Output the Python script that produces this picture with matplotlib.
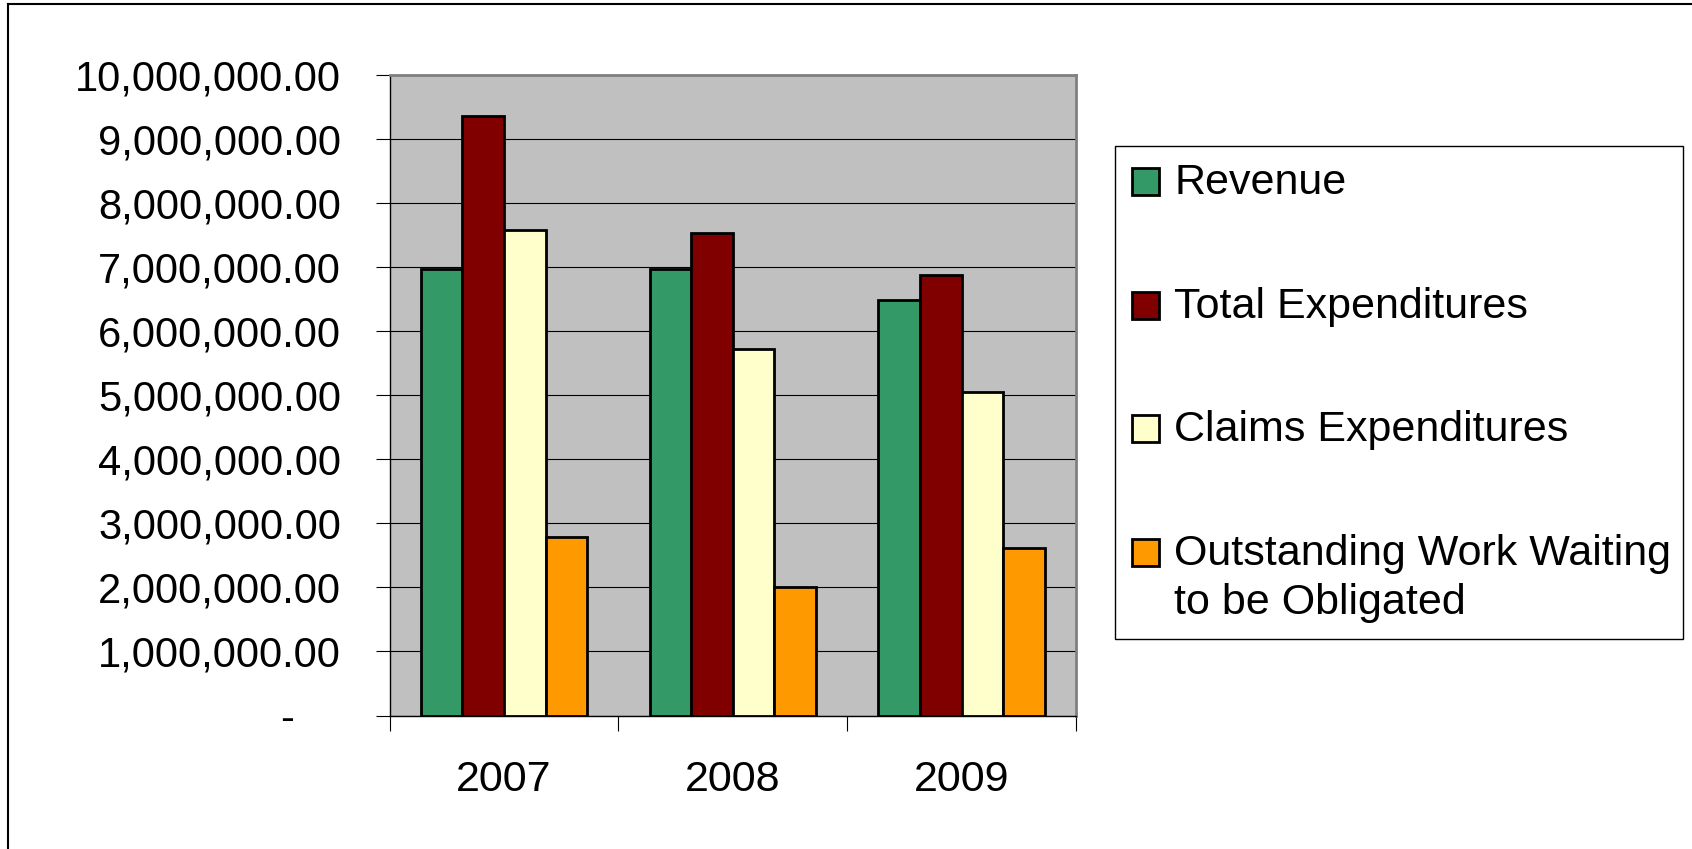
import matplotlib
matplotlib.use("Agg")
import matplotlib.pyplot as plt
import numpy as np
from matplotlib.patches import Rectangle
from matplotlib.lines import Line2D
from matplotlib.ticker import FuncFormatter, MultipleLocator

plt.rcParams['font.family'] = ['Liberation Sans', 'DejaVu Sans']

years = ["2007", "2008", "2009"]
series_names = ["Revenue", "Total Expenditures", "Claims Expenditures",
                "Outstanding Work Waiting\nto be Obligated"]
revenue = [6970000, 6970000, 6480000]
total_exp = [9350000, 7520000, 6870000]
claims_exp = [7570000, 5710000, 5040000]
outstanding = [2790000, 2010000, 2610000]
series_values = [revenue, total_exp, claims_exp, outstanding]
colors = ["#339966", "#800000", "#FFFFCC", "#FF9900"]

W, H = 1692, 849
fig = plt.figure(figsize=(W / 100, H / 100), dpi=100)
fig.patch.set_facecolor("white")

def fx(px):
    return px / W

def fy(py):
    return 1 - py / H

ax = fig.add_axes([fx(389.6), fy(715.5), fx(1076) - fx(389.6), fy(74.5) - fy(715.5)])
ax.set_facecolor("#C0C0C0")

x = np.arange(len(years))
bw = 0.1817
for i, (vals, c, name) in enumerate(zip(series_values, colors, series_names)):
    ax.bar(x + (i - 1.5) * bw, vals, width=bw, color=c, edgecolor="black",
           linewidth=2.0, label=name, zorder=3)

ax.set_xlim(-0.5, len(years) - 0.5)
ax.set_ylim(0, 10_000_000)
ax.yaxis.set_major_locator(MultipleLocator(1_000_000))
ax.yaxis.set_major_formatter(FuncFormatter(lambda v, p: "-    " if v == 0 else f"{v:,.2f}"))
ax.yaxis.grid(True, color="black", linewidth=0.8, zorder=1)
ax.set_axisbelow(True)

ax.set_xticks(x)
ax.set_xticklabels(years)
ax.set_xticks(np.arange(len(years) + 1) - 0.5, minor=True)
ax.tick_params(axis="x", which="major", length=0, labelsize=31, pad=32)
ax.tick_params(axis="x", which="minor", length=11, width=0.8, direction="out", color="black")
ax.tick_params(axis="y", which="major", length=10, width=0.8, direction="out",
               labelsize=30, pad=25, color="black")

for s in ["top", "right"]:
    ax.spines[s].set_color("#808080")
    ax.spines[s].set_linewidth(2)
for s in ["left", "bottom"]:
    ax.spines[s].set_color("black")
    ax.spines[s].set_linewidth(1)

# Legend (drawn manually to match the layout)
fig.add_artist(Rectangle((fx(1115), fy(639)), fx(1683) - fx(1115), fy(146) - fy(639),
                         transform=fig.transFigure, facecolor="white",
                         edgecolor="black", linewidth=1.0))
row_centers = [181.5, 305, 428.5, 552]
sq = 27
for name, c, cy in zip(series_names, colors, row_centers):
    fig.add_artist(Rectangle((fx(1132), fy(cy + sq / 2)), fx(sq), sq / H,
                             transform=fig.transFigure, facecolor=c,
                             edgecolor="black", linewidth=2.0))
    for k, line in enumerate(name.split("\n")):
        fig.text(fx(1174), fy(cy + 13 + 49 * k), line, fontsize=31,
                 va="baseline", ha="left", color="black")

# Outer frame lines (top and left)
fig.add_artist(Line2D([fx(8), 1], [fy(4), fy(4)], transform=fig.transFigure,
                      color="black", linewidth=1.5))
fig.add_artist(Line2D([fx(8), fx(8)], [0, fy(4)], transform=fig.transFigure,
                      color="black", linewidth=1.5))

fig.savefig("out.png", dpi=100)
